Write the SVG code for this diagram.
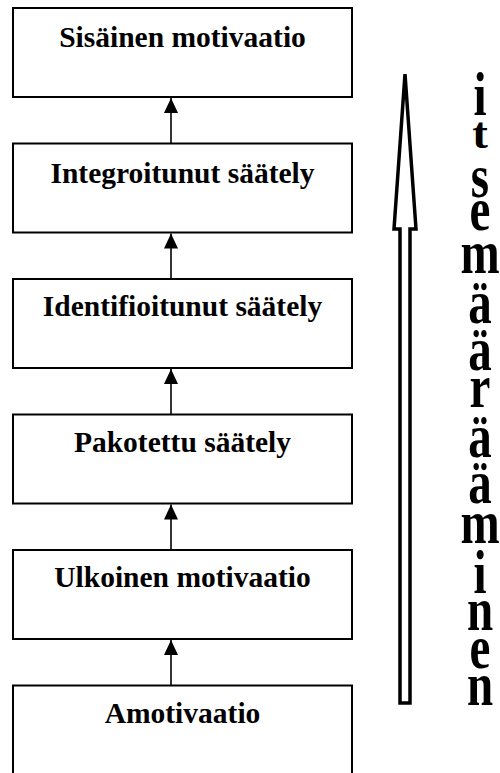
<svg xmlns="http://www.w3.org/2000/svg" width="500" height="773" viewBox="0 0 500 773">
<style>
.box{fill:#fff;stroke:#000;stroke-width:2}
.lbl{font-family:"Liberation Serif","Times New Roman",serif;font-weight:bold;font-size:29.5px;text-anchor:middle;fill:#000}
.conn{stroke:#000;stroke-width:1.6;fill:none}
.vt{font-family:"Liberation Serif","Times New Roman",serif;font-weight:bold;font-size:47px;text-anchor:middle;fill:#000}
</style>
<defs>
<marker id="ah" viewBox="0 0 15 14" refX="15" refY="7" markerWidth="15" markerHeight="14" markerUnits="userSpaceOnUse" orient="auto">
<path d="M0,0 L15,7 L0,14 Z" fill="#000"/>
</marker>
</defs>
<rect width="500" height="773" fill="#fff"/>
<g id="connectors">
<line class="conn" x1="171" y1="143.5" x2="171" y2="98" marker-end="url(#ah)"/>
<line class="conn" x1="171" y1="279" x2="171" y2="233.5" marker-end="url(#ah)"/>
<line class="conn" x1="171" y1="414.5" x2="171" y2="369" marker-end="url(#ah)"/>
<line class="conn" x1="171" y1="550" x2="171" y2="504.5" marker-end="url(#ah)"/>
<line class="conn" x1="171" y1="685.5" x2="171" y2="640" marker-end="url(#ah)"/>
</g>
<g id="n1"><rect class="box" x="13" y="8" width="339" height="89"/><text class="lbl" x="182.5" y="47">Sisäinen motivaatio</text></g>
<g id="n2"><rect class="box" x="13" y="143.5" width="339" height="89"/><text class="lbl" x="182.5" y="182.5">Integroitunut säätely</text></g>
<g id="n3"><rect class="box" x="13" y="279" width="339" height="89"/><text class="lbl" x="182.5" y="316">Identifioitunut säätely</text></g>
<g id="n4"><rect class="box" x="13" y="414.5" width="339" height="89"/><text class="lbl" x="182.5" y="452">Pakotettu säätely</text></g>
<g id="n5"><rect class="box" x="13" y="550" width="339" height="89"/><text class="lbl" x="182.5" y="587">Ulkoinen motivaatio</text></g>
<g id="n6"><rect class="box" x="13" y="685.5" width="339" height="100"/><text class="lbl" x="182.5" y="723">Amotivaatio</text></g>
<g id="bigArrow">
<path d="M405,74 L416,229 L410,229 L410,703 L400,703 L400,229 L394,229 Z" fill="#fff" stroke="#000" stroke-width="3.5" stroke-linejoin="miter"/>
</g>
<g id="vertText" transform="translate(480,0) scale(1,1.3)">
<text class="vt" x="0" y="88.5">i</text>
<text class="vt" transform="translate(0,113.8) scale(1,0.72)">t</text>
<text class="vt" x="0" y="151.5">s</text>
<text class="vt" x="0" y="177">e</text>
<text class="vt" x="0" y="210">m</text>
<text class="vt" x="0" y="248.5">ä</text>
<text class="vt" x="0" y="284.6">ä</text>
<text class="vt" x="0" y="313">r</text>
<text class="vt" x="0" y="351.5">ä</text>
<text class="vt" x="0" y="387">ä</text>
<text class="vt" x="0" y="417.7">m</text>
<text class="vt" x="0" y="456">i</text>
<text class="vt" x="0" y="484.6">n</text>
<text class="vt" x="0" y="513.8">e</text>
<text class="vt" x="0" y="542.3">n</text>
</g>
</svg>
